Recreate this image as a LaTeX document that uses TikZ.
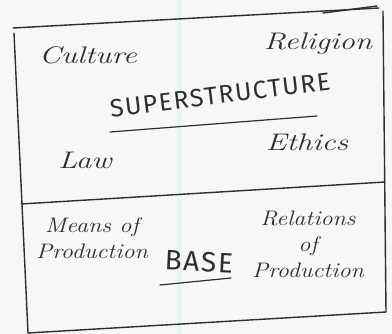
\documentclass[tikz,border=0pt]{standalone}
\usepackage{fontspec}
\newfontfamily\handcaps[LetterSpace=6]{Fira Sans}
\begin{document}
\begin{tikzpicture}[x=1pt,y=-1pt,
  pen/.style={draw=ink,line width=1.4pt,line cap=round,line join=round},
  word/.style={text=ink,font=\fontsize{24}{24}\selectfont\itshape,inner sep=0pt,xscale=1.3},
  capsword/.style={text=ink,font=\fontsize{25}{25}\selectfont\handcaps,inner sep=0pt},
  small/.style={text=ink,font=\fontsize{21}{26}\selectfont\itshape,inner sep=0pt,align=center,xscale=1.15}]
\definecolor{ink}{HTML}{2E2E2E}
\definecolor{paper}{HTML}{F7F7F5}
\definecolor{fold}{HTML}{EAF5F1}
% sheet and faint fold
\fill[paper] (0,0) rectangle (392,334);
\useasboundingbox (0,0) rectangle (392,334);
\fill[fold] (177,0) rectangle (182,334);

% frame corners
\coordinate (tl) at (13,28);
\coordinate (tr) at (379,8);
\coordinate (ml) at (21,204);
\coordinate (mr) at (385,182);
\coordinate (bl) at (28,333);
\coordinate (br) at (386,312);

% outer frame and divider
\draw[pen] (tl) -- (tr);
\draw[pen] (323,13) -- (377,6);
\draw[pen] (14,33) -- (bl);
\draw[pen] (383,11) -- (br);
\draw[pen] (ml) -- (mr);
\draw[pen] (bl) -- (br);

% superstructure section
\node[word] (culture) at (88,55) {Culture};
\node[word] (religion) at (318,44) {Religion};
\node[capsword,rotate=7] (super) at (220,95) {SUPERSTRUCTURE};
\draw[pen,line width=1.2pt] (110,132) -- (317,116);
\node[word] (ethics) at (307,142) {Ethics};
\node[word] (law) at (85,160) {Law};

% base section
\node[small] (means) at (92,238) {Means of\\Production};
\node[capsword,font=\fontsize{28}{28}\selectfont\handcaps,rotate=-3] (base) at (199,262) {BASE};
\draw[pen,line width=1.2pt] (160,285) -- (231,278);
\node[small] (relations) at (308,244) {Relations\\of\\Production};
\end{tikzpicture}
\end{document}
